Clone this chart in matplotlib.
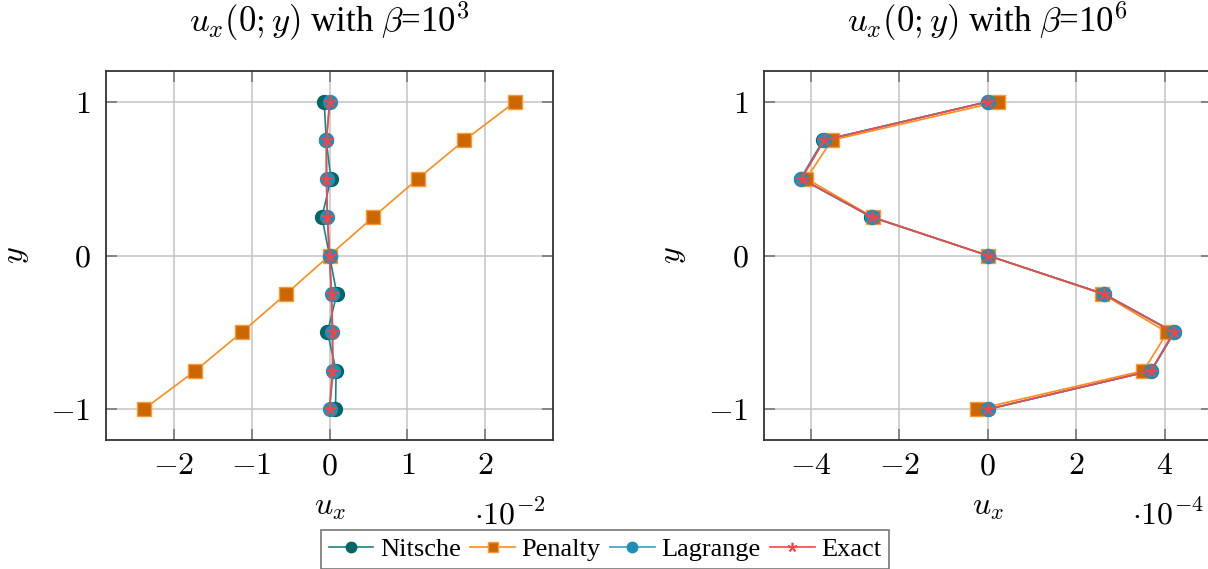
import numpy as np
import matplotlib
matplotlib.use("Agg")
import matplotlib.pyplot as plt
from matplotlib.ticker import FuncFormatter
from matplotlib.lines import Line2D

plt.rcParams['font.family'] = ['Liberation Serif', 'DejaVu Serif']
plt.rcParams['mathtext.fontset'] = 'cm'

# y positions along the line x = 0
y = [1.0, 0.75, 0.5, 0.25, 0.0, -0.25, -0.5, -0.75, -1.0]

# beta = 1e3, values in units of 1e-2
nitsche_b3 = [-0.068, -0.042, 0.018, -0.097, 0.0, 0.094, -0.026, 0.085, 0.077]
penalty_b3 = [2.385, 1.733, 1.137, 0.562, 0.0, -0.557, -1.128, -1.724, -2.385]
lagrange_b3 = [0.005, -0.042, -0.035, -0.030, 0.0, 0.026, 0.032, 0.05, 0.0]
exact_b3 = [0.0, -0.037, -0.042, -0.0262, 0.0, 0.0262, 0.042, 0.037, 0.0]

# beta = 1e6, values in units of 1e-4
nitsche_b6 = [0.0, -3.72, -4.23, -2.63, 0.0, 2.63, 4.22, 3.70, 0.0]
penalty_b6 = [0.24, -3.53, -4.10, -2.60, 0.0, 2.59, 4.06, 3.52, -0.24]
lagrange_b6 = [0.0, -3.70, -4.22, -2.62, 0.0, 2.62, 4.21, 3.69, 0.0]
exact_b6 = [0.0, -3.70, -4.21, -2.62, 0.0, 2.62, 4.20, 3.69, 0.0]

xticks_b3 = [-2, -1, 0, 1, 2]
xticks_b6 = [-4, -2, 0, 2, 4]
yticks = [-1, 0, 1]

star = (5, 2, 0)  # pgfplots-like asterisk star
styles = {
    'Nitsche': dict(color='#178585', marker='o', ms=10, mfc='#006666', mec='#006666', lw=1.2),
    'Penalty': dict(color='#ff8c1a', marker='s', ms=9.5, mfc='#cc6600', mec='#ff9933', lw=1.2),
    'Lagrange': dict(color='#3a9ec0', marker='o', ms=10, mfc='#1f8fb8', mec='#1f8fb8', lw=1.2),
    'Exact': dict(color='#f04848', marker=star, ms=9, mfc='#ff4040', mec='#ff4040',
                  mew=1.2, lw=1.2),
}

fig = plt.figure(figsize=(12.08, 5.69), dpi=100)
W, H = 1208, 569


def make_axes(px_left, px_right, px_top, px_bottom):
    return fig.add_axes([px_left / W, 1 - px_bottom / H,
                         (px_right - px_left) / W, (px_bottom - px_top) / H])


ax1 = make_axes(106, 553, 71, 440)
ax2 = make_axes(763.5, 1212, 71, 440)

fmt = FuncFormatter(lambda v, p: r'$%g$' % v if v >= 0 else r'$-%g$' % (-v))

panels = [
    (ax1, [nitsche_b3, penalty_b3, lagrange_b3, exact_b3], xticks_b3, 2.87, '3', '-2', 510),
    (ax2, [nitsche_b6, penalty_b6, lagrange_b6, exact_b6], xticks_b6, 5.07, '6', '-4', 1168),
]

for ax, series, xt, xl, bexp, sexp, sx in panels:
    for name, vals in zip(styles, series):
        ax.plot(vals, y, **styles[name])
    ax.set_xlim(-xl, xl)
    ax.set_ylim(-1.2, 1.2)
    ax.set_xticks(xt)
    ax.set_yticks(yticks)
    ax.xaxis.set_major_formatter(fmt)
    ax.yaxis.set_major_formatter(fmt)
    ax.grid(True, color='#c4c4c4', lw=1.1)
    ax.set_axisbelow(True)
    ax.tick_params(direction='in', length=8, width=1.1, color='#707070',
                   top=True, right=True, labelsize=23)
    ax.tick_params(axis='x', pad=9)
    ax.tick_params(axis='y', pad=11)
    for s in ax.spines.values():
        s.set_color('#333333')
        s.set_linewidth(1.3)
    ax.set_title(r'$u_x(0;y)$ with $\beta$=10$^{%s}$' % bexp, fontsize=25, pad=28)
    ax.set_xlabel(r'$u_x$', fontsize=23, labelpad=8)
    ax.set_ylabel(r'$y$', fontsize=23, labelpad=14)
    fig.text(sx / W, 1 - 515 / H, r'$\cdot 10^{%s}$' % sexp, fontsize=23,
             ha='center', va='center')

handles = [Line2D([], [], **{**styles[n], 'ms': styles[n]['ms'] * 0.75, 'lw': 1.2})
           for n in styles]
leg = fig.legend(handles, list(styles), loc='upper center',
                 bbox_to_anchor=(605 / W, 1 - 530 / H), ncol=4, fontsize=19,
                 frameon=True, fancybox=False, handlelength=1.7,
                 handletextpad=0.25, columnspacing=0.35, borderpad=0.3,
                 borderaxespad=0)
leg.get_frame().set_edgecolor('#555555')
leg.get_frame().set_linewidth(1.2)

fig.savefig('out.png', dpi=100)
